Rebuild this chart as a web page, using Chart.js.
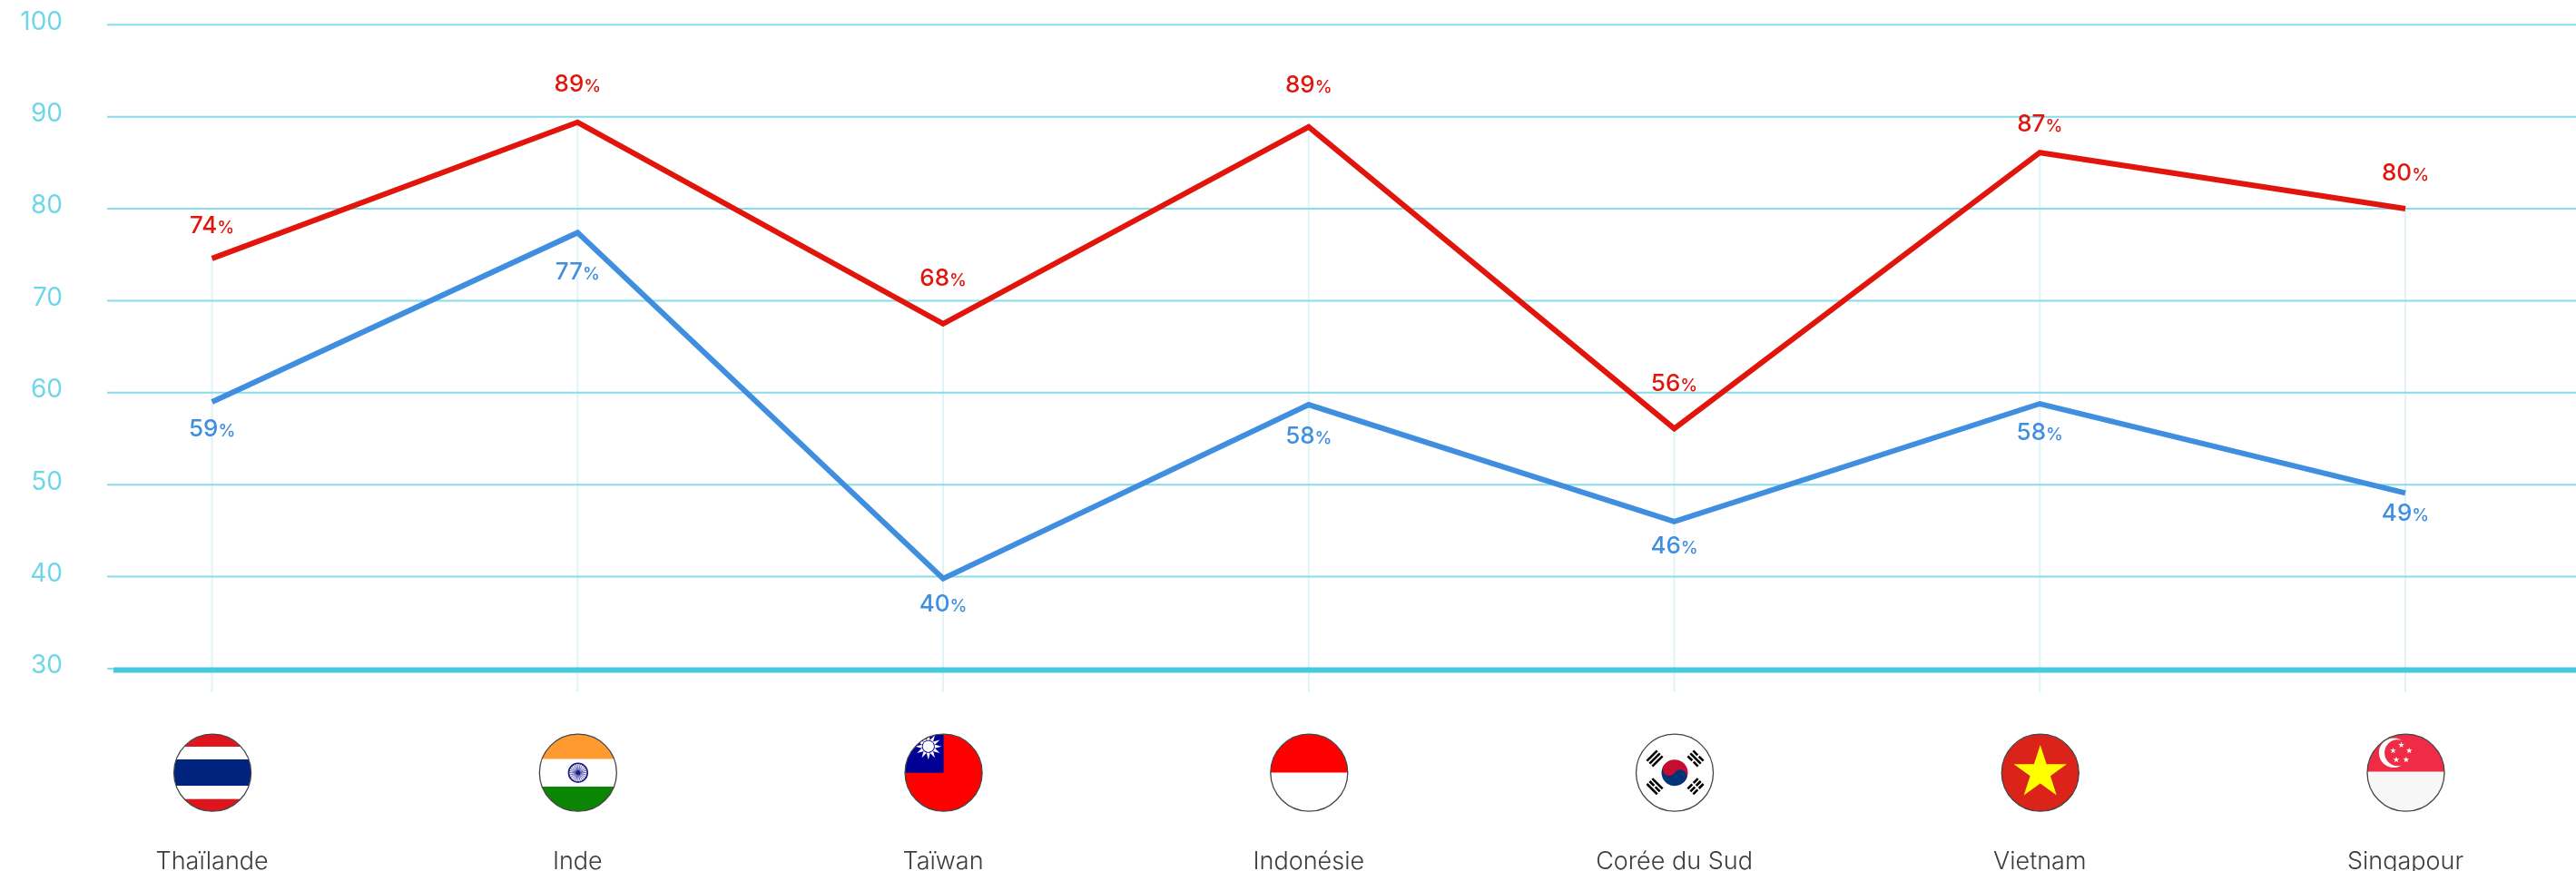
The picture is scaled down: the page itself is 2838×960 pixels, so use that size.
<!DOCTYPE html>
<html><head><meta charset="utf-8">
<style>html,body{margin:0;padding:0;background:#fff}canvas{display:block}</style>
<script src="https://cdn.jsdelivr.net/npm/chart.js@4"></script>
</head><body><canvas id="c" width="2838" height="960"></canvas>
<script>
const categories = ["Thaïlande","Inde","Taïwan","Indonésie","Corée du Sud","Vietnam","Singapour"];
const redValues  = [74.6,89.4,67.5,88.9,56.1,86.1,80.0];
const blueValues = [59.0,77.4,39.8,58.7,46.0,58.8,49.1];
const redLabels  = [74,89,68,89,56,87,80];
const blueLabels = [59,77,40,58,46,58,49];
const yTicks = [30,40,50,60,70,80,90,100];

const FONT = 'Inter, "Open Sans", sans-serif';
const RED = '#e2150c', BLUE = '#408ee0';
const redLabelOffset  = [-37,-43,-51,-47,-50,-32,-40];
const blueLabelOffset = [29,43,27,34,26,31,22];

function star(ctx,cx,cy,r,fill){
  ctx.beginPath();
  for(let i=0;i<10;i++){
    const a=-Math.PI/2+i*Math.PI/5, q=i%2?r*0.382:r;
    ctx.lineTo(cx+q*Math.cos(a),cy+q*Math.sin(a));
  }
  ctx.closePath();ctx.fillStyle=fill;ctx.fill();
}
function bands(ctx,list){
  list.forEach(b=>{ctx.fillStyle=b[0];ctx.fillRect(-45,b[1],90,b[2]-b[1]);});
}
function trigram(ctx,x,y,rot,pattern){
  ctx.save();ctx.translate(x,y);ctx.rotate(rot);ctx.fillStyle='#000';
  pattern.forEach((broken,i)=>{
    const yy=(i-1)*4.2-1.3;
    if(broken){ctx.fillRect(-8,yy,7,2.6);ctx.fillRect(1,yy,7,2.6);}
    else ctx.fillRect(-8,yy,16,2.6);
  });
  ctx.restore();
}
const flagPainters = [
  ctx=>bands(ctx,[['#e0141c',-45,-28.7],['#fff',-28.7,-14.7],['#00247d',-14.7,14.3],['#fff',14.3,29],['#e0141c',29,45]]),
  ctx=>{
    bands(ctx,[['#ff9a30',-45,-15],['#fff',-15,15.3],['#0a8504',15.3,45]]);
    ctx.strokeStyle='#1a1a8c';ctx.lineWidth=1.6;
    ctx.beginPath();ctx.arc(0,0,10.4,0,7);ctx.stroke();
    ctx.lineWidth=.7;
    for(let i=0;i<24;i++){const a=i*Math.PI/12;ctx.beginPath();ctx.moveTo(0,0);ctx.lineTo(10*Math.cos(a),10*Math.sin(a));ctx.stroke();}
    ctx.fillStyle='#1a1a8c';ctx.beginPath();ctx.arc(0,0,2.4,0,7);ctx.fill();
  },
  ctx=>{
    bands(ctx,[['#ff0000',-45,45]]);
    ctx.fillStyle='#000095';ctx.fillRect(-45,-45,45,45);
    ctx.fillStyle='#fff';
    const sx=-16.8,sy=-29;
    for(let i=0;i<12;i++){
      const a=i*Math.PI/6,p=a+Math.PI/2;
      ctx.beginPath();
      ctx.moveTo(sx+7*Math.cos(a)+2*Math.cos(p),sy+7*Math.sin(a)+2*Math.sin(p));
      ctx.lineTo(sx+7*Math.cos(a)-2*Math.cos(p),sy+7*Math.sin(a)-2*Math.sin(p));
      ctx.lineTo(sx+14.5*Math.cos(a),sy+14.5*Math.sin(a));
      ctx.closePath();ctx.fill();
    }
    ctx.beginPath();ctx.arc(sx,sy,6.2,0,7);ctx.fill();
  },
  ctx=>bands(ctx,[['#ff0000',-45,0],['#fff',0,45]]),
  ctx=>{
    bands(ctx,[['#fff',-45,45]]);
    const r=14.5;
    ctx.save();ctx.rotate(Math.PI/5.5);
    ctx.fillStyle='#c60c30';ctx.beginPath();ctx.arc(0,0,r,Math.PI,0);ctx.fill();
    ctx.fillStyle='#003478';ctx.beginPath();ctx.arc(0,0,r,0,Math.PI);ctx.fill();
    ctx.fillStyle='#c60c30';ctx.beginPath();ctx.arc(-r/2,0,r/2,0,7);ctx.fill();
    ctx.fillStyle='#003478';ctx.beginPath();ctx.arc(r/2,0,r/2,0,7);ctx.fill();
    ctx.restore();
    trigram(ctx,-22,-15.7,-Math.PI/4,[0,0,0]);
    trigram(ctx,23,-15.7,Math.PI/4,[1,0,1]);
    trigram(ctx,-22,15,Math.PI/4,[0,1,0]);
    trigram(ctx,23,15,-Math.PI/4,[1,1,1]);
  },
  ctx=>{bands(ctx,[['#dc2319',-45,45]]);star(ctx,0,0,30.7,'#ffff00');},
  ctx=>{
    bands(ctx,[['#ef2b45',-45,-1],['#f7f7f7',-1,45]]);
    ctx.fillStyle='#fff';ctx.beginPath();ctx.arc(-13.3,-22,16.3,0,7);ctx.fill();
    ctx.fillStyle='#ef2b45';ctx.beginPath();ctx.arc(-9,-22,14.4,0,7);ctx.fill();
    [[-5,-30.7],[-14,-24.4],[3.7,-24.4],[-10.5,-14.4],[0.3,-14.4]].forEach(s=>star(ctx,s[0],s[1],3.6,'#fff'));
  }
];

const backdrop = {
  id:'backdrop',
  beforeDatasetsDraw(chart){
    const {ctx,scales:{x,y}}=chart;
    ctx.save();
    ctx.strokeStyle='#dff3f9';ctx.lineWidth=2;
    categories.forEach((c,i)=>{
      const px=x.getPixelForValue(i);
      ctx.beginPath();ctx.moveTo(px,y.getPixelForValue(redValues[i]));ctx.lineTo(px,763);ctx.stroke();
    });
    ctx.strokeStyle='#86dcec';ctx.lineWidth=2;
    yTicks.forEach(v=>{
      const py=y.getPixelForValue(v);
      ctx.beginPath();ctx.moveTo(118,py);ctx.lineTo(2838,py);ctx.stroke();
    });
    const p30=y.getPixelForValue(30);
    ctx.fillStyle='#47c9e0';ctx.fillRect(125,p30-1.5,2713,6);
    ctx.restore();
  }
};
function pctLabel(ctx,num,cx,cy,color){
  ctx.fillStyle=color;ctx.textBaseline='alphabetic';ctx.textAlign='left';
  const a=String(num),big='500 26px '+FONT,small='500 19px '+FONT;
  ctx.font=big;const wa=ctx.measureText(a).width;
  ctx.font=small;const wb=ctx.measureText('%').width;
  const left=cx-(wa+wb)/2,base=cy+9;
  ctx.font=big;ctx.fillText(a,left,base);
  ctx.font=small;ctx.fillText('%',left+wa,base);
}
const overlay = {
  id:'overlay',
  afterDatasetsDraw(chart){
    const {ctx,scales:{x,y}}=chart;
    ctx.save();
    categories.forEach((c,i)=>{
      const px=x.getPixelForValue(i);
      pctLabel(ctx,redLabels[i],px,y.getPixelForValue(redValues[i])+redLabelOffset[i],RED);
      pctLabel(ctx,blueLabels[i],px,y.getPixelForValue(blueValues[i])+blueLabelOffset[i],BLUE);
      ctx.save();
      ctx.translate(px+0.5,851.7);
      ctx.save();
      ctx.beginPath();ctx.arc(0,0,42.5,0,7);ctx.clip();
      flagPainters[i](ctx);
      ctx.restore();
      ctx.strokeStyle='#444';ctx.lineWidth=1.3;
      ctx.beginPath();ctx.arc(0,0,42.5,0,7);ctx.stroke();
      ctx.restore();
    });
    ctx.restore();
  }
};
function noPadding(s){s.paddingLeft=s.paddingRight=s.paddingTop=s.paddingBottom=0;}

new Chart(document.getElementById('c'),{
  type:'line',
  data:{labels:categories,datasets:[
    {label:'Série 1',data:redValues,borderColor:RED,borderWidth:6,pointRadius:0,tension:0,fill:false,borderJoinStyle:'miter'},
    {label:'Série 2',data:blueValues,borderColor:BLUE,borderWidth:6,pointRadius:0,tension:0,fill:false,borderJoinStyle:'miter'}
  ]},
  options:{
    responsive:false,animation:false,devicePixelRatio:1,
    layout:{padding:{top:27.3,right:188,left:0,bottom:0}},
    plugins:{legend:{display:false},tooltip:{enabled:false}},
    scales:{
      x:{
        offset:false,
        grid:{display:false},border:{display:false},
        afterFit(s){s.height=223;noPadding(s);},
        ticks:{autoSkip:false,maxRotation:0,minRotation:0,padding:189,color:'#3c3c3c',font:{family:FONT,size:27,weight:'300'}}
      },
      y:{
        min:30,max:100,
        afterBuildTicks(s){s.ticks=yTicks.map(v=>({value:v}));},
        grid:{display:false,drawTicks:false},border:{display:false},
        afterFit(s){s.width=233.6;noPadding(s);},
        ticks:{padding:164.6,labelOffset:-3,color:'#6fd6ea',font:{family:FONT,size:28,weight:'400'}}
      }
    }
  },
  plugins:[backdrop,overlay]
});
</script></body></html>
